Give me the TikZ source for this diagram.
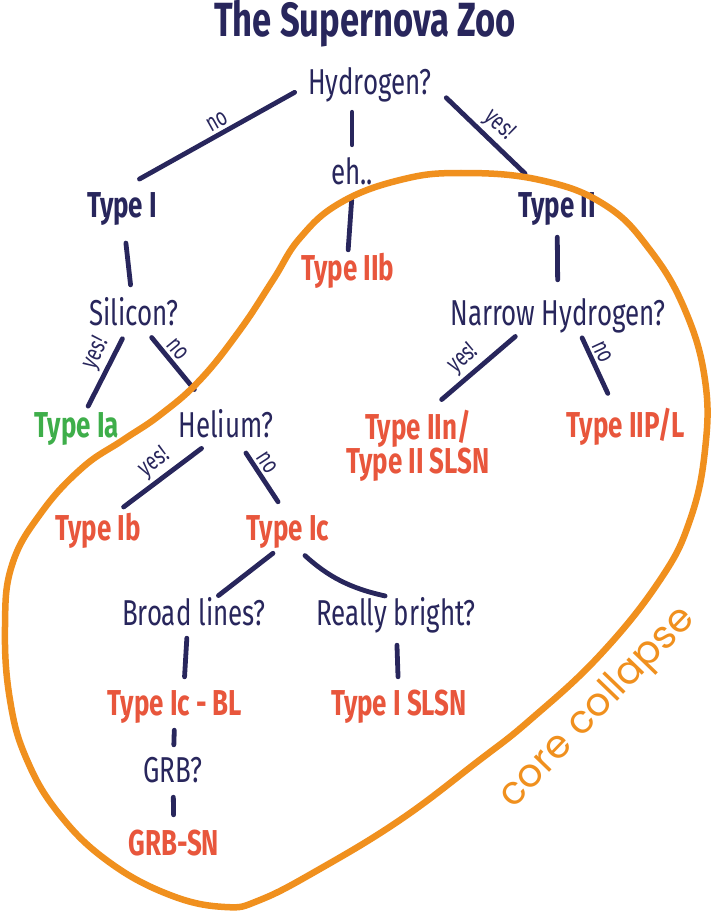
\documentclass[tikz,border=0pt]{standalone}
\usepackage{fontspec}
\setmainfont{Fira Sans}[FakeStretch=0.72]
\newfontfamily\collapsefont{Poppins}
\usetikzlibrary{positioning}
\definecolor{zooNavy}{RGB}{40,38,92}
\definecolor{zooRed}{RGB}{232,86,60}
\definecolor{zooGreen}{RGB}{62,174,74}
\definecolor{zooOrange}{RGB}{240,144,30}
\tikzset{
    x=1pt, y=-1pt, % one unit is one pixel of the sketch, y runs down
    box/.style={inner sep=2pt, text height=26pt, text depth=8pt}, % same box for every line of text
    question/.style={box, text=zooNavy, font=\fontsize{36}{40}\selectfont}, % the questions
    navytype/.style={box, text=zooNavy, font=\bfseries\fontsize{36}{40}\selectfont}, % Type I and Type II
    redtext/.style={text=zooRed, font=\bfseries\fontsize{36}{34}\selectfont},
    sntype/.style={box, redtext}, % the supernova types
    link/.style={draw=zooNavy, line width=4.8pt, line cap=round}, % the branches
    lbl/.style={sloped, above, text=zooNavy, font=\fontsize{25}{25}\selectfont, inner sep=3pt}, % yes! / no
    blob/.style={draw=zooOrange, line width=6.5pt}, % core collapse outline
}
\begin{document}
\begin{tikzpicture}
    \useasboundingbox (0,0) rectangle (710,912);
    \node[navytype, font=\bfseries\fontsize{48}{48}\selectfont] (title) at (365,28) {The Supernova Zoo};
    \node[question] (hydro) at (370,86) {Hydrogen?};
    \node[navytype] (typeI) at (122,208) {Type I};
    \node[question] (eh) at (352,176) {eh..};
    \node[navytype] (typeII) at (557,208) {Type II};
    \node[sntype] (typeIIb) at (348,271) {Type IIb};
    \node[question] (silicon) at (134,316) {Silicon?};
    \node[question] (narrow) at (558,316) {Narrow Hydrogen?};
    \node[sntype, text=zooGreen] (typeIa) at (77,428) {Type Ia};
    \node[question] (helium) at (226,428) {Helium?};
    \node[redtext, inner sep=2pt, align=center, anchor=north] (typeIIn) at (418,408) {Type IIn/\\Type II SLSN};
    \node[sntype] (typeIIPL) at (626,428) {Type IIP/L};
    \node[sntype] (typeIb) at (98,531) {Type Ib};
    \node[sntype] (typeIc) at (288,531) {Type Ic};
    \node[question] (broad) at (194,616) {Broad lines?};
    \node[question] (bright) at (396,616) {Really bright?};
    \node[sntype] (typeIcBL) at (175,706) {Type Ic - BL};
    \node[sntype] (typeISLSN) at (399,706) {Type I SLSN};
    \node[question] (grb) at (173,773) {GRB?};
    \node[sntype] (grbsn) at (174,846) {GRB-SN};

    \draw[link, shorten <=13pt, shorten >=20pt] (hydro.west) -- node[lbl, pos=0.45]{no} (typeI.north);
    \draw[link, shorten <=7pt, shorten >=12pt] (hydro.south -| eh) -- (eh.north);
    \draw[link, shorten <=17pt, shorten >=22pt] (hydro.east) -- node[lbl]{yes!} (typeII.130);
    \draw[link, shorten <=5pt, shorten >=2pt] (eh.south) -- (typeIIb.north);
    \draw[link, shorten <=16pt, shorten >=12pt] (typeI) -- (silicon);
    \draw[link, shorten <=10pt, shorten >=17pt] (typeII) -- (narrow);
    \draw[link, shorten <=4pt, shorten >=3pt] (silicon) -- node[lbl, pos=0.35]{yes!} (typeIa);
    \draw[link, shorten <=3pt, shorten >=25pt] (silicon) -- node[lbl, pos=0.3]{no} (helium);
    \draw[link, shorten <=2pt, shorten >=13pt] (narrow.205) -- node[lbl]{yes!} (typeIIn.70);
    \draw[link, shorten <=3pt, shorten >=17pt] (narrow.-40) -- node[lbl, pos=0.3]{no} (typeIIPL.120);
    \draw[link, shorten <=2pt, shorten >=8pt] (helium.220) -- node[lbl, pos=0.45]{yes!} (typeIb.45);
    \draw[link, shorten <=7pt, shorten >=12pt] (helium.-50) -- node[lbl, pos=0.35]{no} (typeIc.100);
    \draw[link, shorten <=5pt, shorten >=2pt] (typeIc.240) -- (broad.40);
    \draw[link, shorten <=8pt, shorten >=4pt] (typeIc.-60) to[bend right=15] (bright.110);
    \draw[link, shorten <=3pt, shorten >=10pt] (broad.-110) -- (typeIcBL.65);
    \draw[link, shorten <=10pt, shorten >=10pt] (bright) -- (typeISLSN);
    \draw[link, shorten <=5pt, shorten >=9pt] (typeIcBL) -- (grb);
    \draw[link, shorten <=5pt, shorten >=12pt] (grb) -- (grbsn);

    % core collapse region
    \draw[blob] plot[smooth cycle, tension=0.7] coordinates {
        (461,173) (540,180) (605,205) (650,250) (685,310) (705,380) (705,450)
        (690,520) (660,580) (600,655) (530,720) (477,762) (400,820) (318,870)
        (260,900) (225,907) (170,895) (109,862) (60,815) (27,760) (10,700)
        (5,627) (12,565) (41,513) (82,468) (123,440) (160,415) (200,380)
        (240,330) (273,280) (300,238) (340,203) (400,180)};
    \node[rotate=46, text=zooOrange, font=\collapsefont\fontsize{39}{39}\selectfont] (cc) at (598,708) {core collapse};
\end{tikzpicture}
\end{document}
